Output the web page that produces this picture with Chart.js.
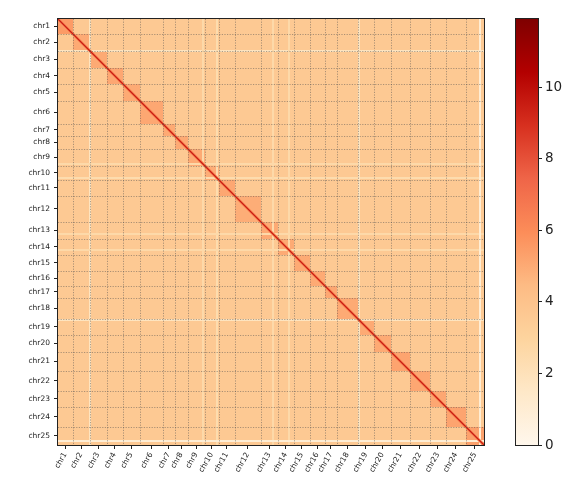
<!DOCTYPE html>
<html>
<head>
<meta charset="utf-8">
<script src="https://cdn.jsdelivr.net/npm/chart.js@4.4.1/dist/chart.umd.min.js"></script>
<style>
  body { margin: 0; background: #fff; }
  #wrap { position: relative; width: 574px; height: 486px; }
  #heatmap { position: absolute; left: 0; top: 0; }
  #colorbar { position: absolute; left: 500px; top: 0; }
</style>
</head>
<body>
<div id="wrap">
  <canvas id="heatmap" width="500" height="486"></canvas>
  <canvas id="colorbar" width="74" height="486"></canvas>
</div>
<script>
// chromosome names and sizes (same units on both axes)
const chromNames = ['chr1', 'chr2', 'chr3', 'chr4', 'chr5', 'chr6', 'chr7', 'chr8', 'chr9', 'chr10',
    'chr11', 'chr12', 'chr13', 'chr14', 'chr15', 'chr16', 'chr17', 'chr18', 'chr19', 'chr20',
    'chr21', 'chr22', 'chr23', 'chr24', 'chr25'];
const chromSizes = [14.5, 17, 17, 16, 17, 23, 12, 13, 17, 14, 16, 26, 17, 16, 16, 15, 12, 21, 16, 17, 19, 20, 16, 20, 18];

// contact levels (log scale)
const intraValues = [5.5, 5.0, 5.0, 5.1, 5.0, 5.1, 5.0, 5.0, 5.0, 4.9, 5.1, 4.9, 5.0, 5.0, 5.0, 5.0, 5.1, 5.0, 5.0, 5.0, 5.2, 5.1, 5.1, 5.2, 5.3];
const interValue = 3.6;
const nearDiagValue = 6.0;
const diagValue = 9.5;

// low coverage rows / columns
const lowCovPositions = [31, 144, 158, 214, 230, 300, 421];
const lowCovValues = [1.8, 2.6, 2.4, 2.6, 2.6, 1.8, 1.0];

const colorbarTicks = [0, 2, 4, 6, 8, 10];
const vmax = 11.9;

// OrRd colormap
const orRd = ['#fff7ec', '#fee8c8', '#fdd49e', '#fdbb84', '#fc8d59', '#ef6548', '#d7301f', '#b30000', '#7f0000'];

function hexToRgb(h) {
    return [parseInt(h.slice(1, 3), 16), parseInt(h.slice(3, 5), 16), parseInt(h.slice(5, 7), 16)];
}

function colorFor(v) {
    let t = Math.max(0, Math.min(1, v / vmax)) * (orRd.length - 1);
    const i = Math.min(Math.floor(t), orRd.length - 2);
    const f = t - i;
    const a = hexToRgb(orRd[i]), b = hexToRgb(orRd[i + 1]);
    const c = a.map((x, k) => Math.round(x + (b[k] - x) * f));
    return 'rgb(' + c.join(',') + ')';
}

const starts = [];
let acc = 0;
chromSizes.forEach(s => { starts.push(acc); acc += s; });
const total = acc;
const centers = chromSizes.map((s, i) => starts[i] + s / 2);

const tickFont = { family: 'DejaVu Sans', size: 7.5 };

// Heatmap plugin
const heatmapPlugin = {
    id: 'heatmap',
    beforeDatasetsDraw(chart) {
        const { ctx, chartArea: area, scales: { x, y } } = chart;
        const px = v => Math.round(x.getPixelForValue(v));
        const py = v => Math.round(y.getPixelForValue(v));
        ctx.save();
        ctx.beginPath();
        ctx.rect(area.left, area.top, area.width, area.height);
        ctx.clip();

        // blocks
        chromSizes.forEach((si, i) => {
            chromSizes.forEach((sj, j) => {
                const x0 = px(starts[i]), x1 = px(starts[i] + si);
                const y0 = py(starts[j]), y1 = py(starts[j] + sj);
                ctx.fillStyle = colorFor(i === j ? intraValues[i] : interValue);
                ctx.fillRect(x0, y0, x1 - x0, y1 - y0);
            });
        });

        // low coverage stripes
        lowCovPositions.forEach((p, k) => {
            ctx.fillStyle = colorFor(lowCovValues[k]);
            const x0 = px(p), x1 = px(p + 1.5);
            const y0 = py(p), y1 = py(p + 1.5);
            ctx.fillRect(x0, area.top, Math.max(1, x1 - x0), area.height);
            ctx.fillRect(area.left, y0, area.width, Math.max(1, y1 - y0));
        });

        // near diagonal band
        ctx.lineCap = 'butt';
        ctx.strokeStyle = colorFor(nearDiagValue);
        ctx.lineWidth = 3;
        chromSizes.forEach((s, i) => {
            ctx.beginPath();
            ctx.moveTo(x.getPixelForValue(starts[i]), y.getPixelForValue(starts[i]));
            ctx.lineTo(x.getPixelForValue(starts[i] + s), y.getPixelForValue(starts[i] + s));
            ctx.stroke();
        });

        // main diagonal
        ctx.strokeStyle = colorFor(diagValue);
        ctx.lineWidth = 1.3;
        ctx.beginPath();
        ctx.moveTo(x.getPixelForValue(0), y.getPixelForValue(0));
        ctx.lineTo(x.getPixelForValue(total), y.getPixelForValue(total));
        ctx.stroke();

        // chromosome boundaries
        ctx.strokeStyle = 'rgba(80, 80, 80, 0.6)';
        ctx.lineWidth = 0.8;
        ctx.setLineDash([1.2, 1.4]);
        starts.slice(1).forEach(b => {
            const bx = px(b) + 0.5, by = py(b) + 0.5;
            ctx.beginPath();
            ctx.moveTo(bx, area.top);
            ctx.lineTo(bx, area.bottom);
            ctx.moveTo(area.left, by);
            ctx.lineTo(area.right, by);
            ctx.stroke();
        });
        ctx.restore();
    },
    afterDraw(chart) {
        const { ctx, chartArea: area } = chart;
        ctx.save();
        ctx.strokeStyle = '#222';
        ctx.lineWidth = 1;
        ctx.strokeRect(area.left - 0.5, area.top - 0.5, area.width + 1, area.height + 1);
        ctx.restore();
    }
};

new Chart(document.getElementById('heatmap'), {
    type: 'scatter',
    data: { datasets: [{ data: [] }] },
    options: {
        responsive: false,
        animation: false,
        layout: { padding: { left: 0, top: 19, right: 16, bottom: 0 } },
        plugins: {
            legend: { display: false },
            tooltip: { enabled: false }
        },
        scales: {
            x: {
                type: 'linear',
                min: 0,
                max: total,
                afterFit(scale) { scale.height = 41; },
                afterBuildTicks(scale) { scale.ticks = centers.map(v => ({ value: v })); },
                ticks: {
                    autoSkip: false,
                    minRotation: 60,
                    maxRotation: 60,
                    padding: 2,
                    font: tickFont,
                    color: '#222',
                    callback: (value, index) => chromNames[index]
                },
                grid: { drawOnChartArea: false, tickLength: 4, color: '#222' },
                border: { display: true, color: '#222' }
            },
            y: {
                type: 'linear',
                min: 0,
                max: total,
                reverse: true,
                afterFit(scale) { scale.width = 58; },
                afterBuildTicks(scale) { scale.ticks = centers.map(v => ({ value: v })); },
                ticks: {
                    autoSkip: false,
                    padding: 4,
                    font: tickFont,
                    color: '#222',
                    callback: (value, index) => chromNames[index]
                },
                grid: { drawOnChartArea: false, tickLength: 4, color: '#222' },
                border: { display: true, color: '#222' }
            }
        }
    },
    plugins: [heatmapPlugin]
});

// Colorbar
const colorbarPlugin = {
    id: 'colorbarFill',
    beforeDatasetsDraw(chart) {
        const { ctx, chartArea: area, scales: { y } } = chart;
        const grad = ctx.createLinearGradient(0, y.getPixelForValue(0), 0, y.getPixelForValue(vmax));
        orRd.forEach((c, i) => grad.addColorStop(i / (orRd.length - 1), c));
        ctx.save();
        ctx.fillStyle = grad;
        ctx.fillRect(area.left, area.top, area.width, area.height);
        ctx.strokeStyle = '#222';
        ctx.lineWidth = 1;
        ctx.strokeRect(area.left - 0.5, area.top - 0.5, area.width + 1, area.height + 1);
        ctx.restore();
    }
};

new Chart(document.getElementById('colorbar'), {
    type: 'scatter',
    data: { datasets: [{ data: [] }] },
    options: {
        responsive: false,
        animation: false,
        layout: { padding: { left: 16, top: 19, right: 0, bottom: 41 } },
        plugins: {
            legend: { display: false },
            tooltip: { enabled: false }
        },
        scales: {
            x: { display: false, min: 0, max: 1 },
            y: {
                position: 'right',
                min: 0,
                max: vmax,
                afterFit(scale) { scale.width = 36; },
                afterBuildTicks(scale) { scale.ticks = colorbarTicks.map(v => ({ value: v })); },
                ticks: {
                    padding: 3,
                    font: { family: 'DejaVu Sans', size: 13.5 },
                    color: '#222'
                },
                grid: { drawOnChartArea: false, tickLength: 4, color: '#222' },
                border: { display: true, color: '#222' }
            }
        }
    },
    plugins: [colorbarPlugin]
});
</script>
</body>
</html>
